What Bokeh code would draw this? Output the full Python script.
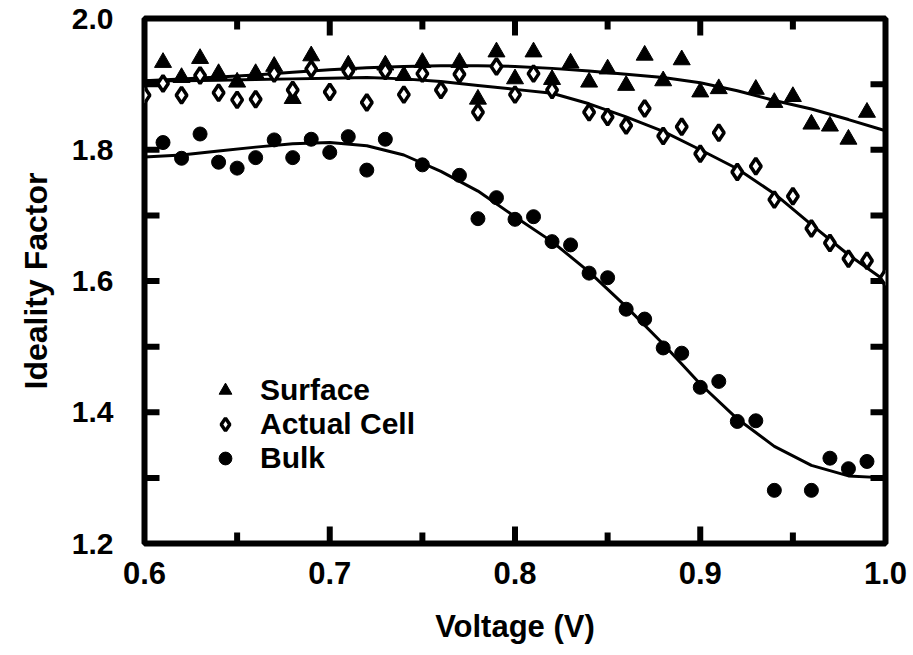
from bokeh.plotting import figure
from bokeh.models import LinearAxis, FixedTicker, Range1d, Legend, LegendItem, PrintfTickFormatter
from bokeh.embed import file_html
from bokeh.resources import INLINE

# ---- data ----
surf_v = [0.61, 0.62, 0.63, 0.64, 0.65, 0.66, 0.67, 0.68, 0.69, 0.71, 0.73, 0.74, 0.75,
          0.77, 0.78, 0.79, 0.80, 0.81, 0.82, 0.83, 0.84, 0.85, 0.86, 0.87, 0.88, 0.89,
          0.90, 0.91, 0.93, 0.94, 0.95, 0.96, 0.97, 0.98, 0.99]
surf_n = [1.933, 1.910, 1.939, 1.916, 1.903, 1.916, 1.927, 1.878, 1.943, 1.929, 1.929, 1.913, 1.933,
          1.933, 1.877, 1.949, 1.908, 1.949, 1.907, 1.932, 1.903, 1.923, 1.898, 1.944, 1.905, 1.937,
          1.888, 1.893, 1.892, 1.872, 1.881, 1.839, 1.836, 1.816, 1.857]

cell_v = [0.60, 0.61, 0.62, 0.63, 0.64, 0.65, 0.66, 0.67, 0.68, 0.69, 0.70, 0.71, 0.72, 0.73,
          0.74, 0.75, 0.76, 0.77, 0.78, 0.79, 0.80, 0.81, 0.82, 0.84, 0.85, 0.86, 0.87, 0.88,
          0.89, 0.90, 0.91, 0.92, 0.93, 0.94, 0.95, 0.96, 0.97, 0.98, 0.99, 1.00]
cell_n = [1.883, 1.901, 1.883, 1.913, 1.887, 1.876, 1.877, 1.916, 1.891, 1.923, 1.888, 1.920, 1.872, 1.920,
          1.884, 1.916, 1.891, 1.915, 1.857, 1.927, 1.884, 1.916, 1.891, 1.857, 1.850, 1.837, 1.863, 1.821,
          1.835, 1.794, 1.826, 1.766, 1.775, 1.724, 1.729, 1.680, 1.658, 1.634, 1.631, 1.605]

bulk_v = [0.61, 0.62, 0.63, 0.64, 0.65, 0.66, 0.67, 0.68, 0.69, 0.70, 0.71, 0.72, 0.73, 0.75,
          0.77, 0.78, 0.79, 0.80, 0.81, 0.82, 0.83, 0.84, 0.85, 0.86, 0.87, 0.88, 0.89, 0.90,
          0.91, 0.92, 0.93, 0.94, 0.96, 0.97, 0.98, 0.99]
bulk_n = [1.811, 1.787, 1.824, 1.781, 1.772, 1.788, 1.815, 1.788, 1.816, 1.796, 1.820, 1.769, 1.816, 1.777,
          1.761, 1.695, 1.727, 1.694, 1.698, 1.660, 1.655, 1.612, 1.605, 1.557, 1.542, 1.498, 1.490, 1.438,
          1.447, 1.386, 1.387, 1.281, 1.281, 1.330, 1.314, 1.325]

# fitted curves
fit_v = [0.60, 0.62, 0.64, 0.66, 0.68, 0.70, 0.72, 0.74, 0.76, 0.78, 0.80,
         0.82, 0.84, 0.86, 0.88, 0.90, 0.92, 0.94, 0.96, 0.98, 1.00]
fit_surf = [1.905, 1.908, 1.911, 1.914, 1.918, 1.922, 1.925, 1.927, 1.928, 1.928, 1.927,
            1.924, 1.920, 1.915, 1.910, 1.902, 1.890, 1.875, 1.862, 1.846, 1.829]
fit_cell = [1.905, 1.905, 1.906, 1.907, 1.908, 1.909, 1.910, 1.908, 1.904, 1.898, 1.892,
            1.886, 1.870, 1.850, 1.828, 1.800, 1.771, 1.733, 1.686, 1.640, 1.600]
fit_bulk = [1.789, 1.792, 1.798, 1.804, 1.809, 1.811, 1.806, 1.792, 1.767, 1.737, 1.698,
            1.660, 1.614, 1.561, 1.504, 1.443, 1.390, 1.348, 1.319, 1.303, 1.300]

x_ticks = [0.6, 0.7, 0.8, 0.9, 1.0]
x_minor = [0.65, 0.75, 0.85, 0.95]
y_ticks = [1.2, 1.4, 1.6, 1.8, 2.0]
y_minor = [1.3, 1.5, 1.7, 1.9]

FONT = "Liberation Sans"
X0, X1, Y0, Y1 = 0.6, 1.0, 1.2, 2.0
W, H = 913, 655
BL, BR, BT, BB = 144, 28, 18, 112

p = figure(width=W, height=H, output_backend="svg", toolbar_location=None,
           x_range=Range1d(X0, X1), y_range=Range1d(Y0, Y1),
           min_border_left=BL, min_border_right=BR, min_border_top=BT, min_border_bottom=BB,
           x_axis_location=None, y_axis_location=None)
p.grid.visible = False
p.outline_line_color = "black"
p.outline_line_width = 6
p.background_fill_color = "white"
p.border_fill_color = "white"


def style_axis(ax, ticks, minor):
    ax.ticker = FixedTicker(ticks=ticks, minor_ticks=minor)
    ax.formatter = PrintfTickFormatter(format="%.1f")
    ax.axis_line_color = None
    ax.major_tick_line_color = None
    ax.minor_tick_line_color = None
    ax.major_label_text_font = FONT
    ax.major_label_text_font_style = "bold"
    ax.major_label_text_color = "black"
    ax.axis_label_text_font = FONT
    ax.axis_label_text_font_style = "bold"
    ax.axis_label_text_color = "black"


xb = LinearAxis(axis_label="Voltage (V)")
style_axis(xb, x_ticks, x_minor)
xb.major_label_text_font_size = "31px"
xb.axis_label_text_font_size = "31px"
xb.major_label_standoff = 12
xb.axis_label_standoff = 22
p.add_layout(xb, "below")

yl = LinearAxis(axis_label="Ideality Factor")
style_axis(yl, y_ticks, y_minor)
yl.major_label_text_font_size = "30px"
yl.axis_label_text_font_size = "32px"
yl.major_label_standoff = 25
yl.axis_label_standoff = 15
p.add_layout(yl, "left")

# inward tick marks on all four sides, drawn as short segments (pixel length -> data length)
px_x = (X1 - X0) / (W - BL - BR)
px_y = (Y1 - Y0) / (H - BT - BB)
MAJ, MIN, YT = 17, 11, 15
xt_in = x_ticks[1:-1]
yt_in = y_ticks[1:-1] + y_minor
for yy, sgn in ((Y0, 1), (Y1, -1)):
    p.segment(x0=xt_in, y0=[yy] * len(xt_in), x1=xt_in, y1=[yy + sgn * MAJ * px_y] * len(xt_in),
              line_color="black", line_width=6)
    p.segment(x0=x_minor, y0=[yy] * len(x_minor), x1=x_minor, y1=[yy + sgn * MIN * px_y] * len(x_minor),
              line_color="black", line_width=6)
for xx, sgn in ((X0, 1), (X1, -1)):
    p.segment(x0=[xx] * len(yt_in), y0=yt_in, x1=[xx + sgn * YT * px_x] * len(yt_in), y1=yt_in,
              line_color="black", line_width=6)

# curves
p.line(fit_v, fit_surf, line_color="black", line_width=3)
p.line(fit_v, fit_cell, line_color="black", line_width=3)
p.line(fit_v, fit_bulk, line_color="black", line_width=3)

r_s = p.scatter(surf_v, surf_n, marker="triangle", size=17, fill_color="black", line_color="black", line_width=1)
r_c = p.scatter(cell_v, cell_n, marker="diamond", size=16, fill_color="white", line_color="black", line_width=3.5)
r_b = p.scatter(bulk_v, bulk_n, marker="circle", size=14, fill_color="black", line_color="black", line_width=1)

legend = Legend(items=[LegendItem(label="Surface", renderers=[r_s]),
                       LegendItem(label="Actual Cell", renderers=[r_c]),
                       LegendItem(label="Bulk", renderers=[r_b])],
                location=(64, 68))
legend.border_line_color = None
legend.background_fill_alpha = 0
legend.label_text_font = FONT
legend.label_text_font_style = "bold"
legend.label_text_font_size = "30px"
legend.label_text_color = "black"
legend.glyph_width = 34
legend.glyph_height = 32
legend.label_height = 32
legend.label_standoff = 18
legend.spacing = 0
legend.padding = 0
legend.margin = 0
p.add_layout(legend, "center")

open("out.html", "w").write(file_html(p, INLINE))
